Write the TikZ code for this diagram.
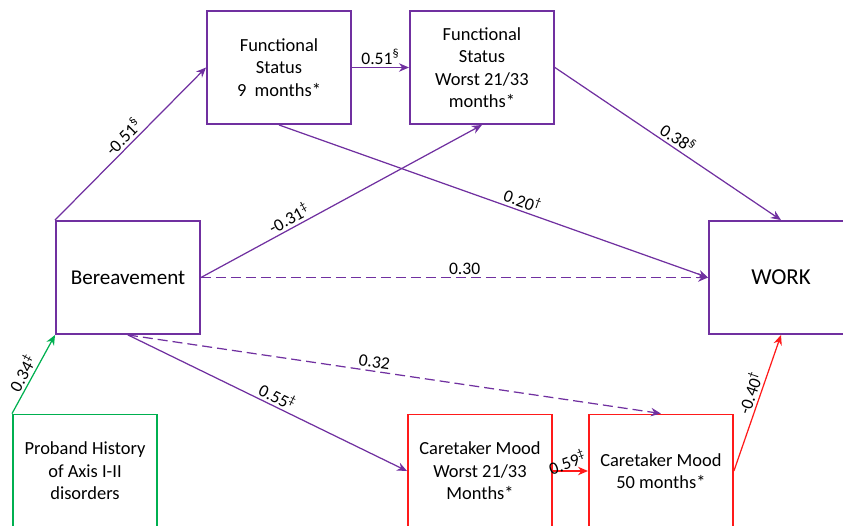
\documentclass[tikz,border=0pt]{standalone}
\usepackage{fontspec}
\setmainfont{Carlito}
\usetikzlibrary{arrows.meta, positioning}
\definecolor{pathpurple}{HTML}{7030A0}
\definecolor{historygreen}{HTML}{00B050}
\definecolor{moodred}{HTML}{FF1A1A}

\begin{document}
\begin{tikzpicture}[
  box/.style={rectangle, draw=pathpurple, line width=1.1pt, minimum width=2.88cm, minimum height=2.26cm, align=center, font=\fontsize{10.5}{12.8}\selectfont},
  moodbox/.style={box, draw=moodred},
  histbox/.style={box, draw=historygreen},
  arrow/.style={-{Stealth[length=2mm, width=1.7mm]}, line width=0.7pt, draw=pathpurple},
  moodarrow/.style={arrow, draw=moodred},
  histarrow/.style={arrow, draw=historygreen},
  maybe/.style={arrow, dash pattern=on 2mm off 1mm},
  coef/.style={font=\fontsize{10}{12}\selectfont, midway, sloped, above, inner sep=1.5pt}
]
  \useasboundingbox (0,0) rectangle (16.86,-10.5);
  \clip (0,0) rectangle (16.86,-10.5);

  \node[box] (fs9) at (5.58,-1.35) {Functional\\Status\\9~~months*};
  \node[box, right=1.14cm of fs9] (fsw) {Functional\\Status\\Worst 21/33\\months*};
  \node[box, font=\fontsize{12}{14}\selectfont] (ber) at (2.56,-5.55) {Bereavement};
  \node[box, font=\fontsize{13}{15}\selectfont] (work) at (15.62,-5.55) {WORK};
  \node[histbox] (hist) at (1.70,-9.42) {Proband History\\of Axis I-II\\disorders};
  \node[moodbox] (cmw) at (9.60,-9.42) {Caretaker Mood\\Worst 21/33\\Months*};
  \node[moodbox, right=0.70cm of cmw] (cm50) {Caretaker Mood\\50 months*};

  \draw[arrow] (ber.north west) -- node[coef] {-0.51\textsuperscript{§}} (fs9.west);
  \draw[arrow] (fs9) -- node[coef] {0.51\textsuperscript{§}} (fsw);
  \draw[arrow] (ber.east) -- node[coef, pos=0.33] {-0.31\textsuperscript{‡}} (fsw.south);
  \draw[arrow] (fs9.south) -- node[coef, pos=0.56] {0.20\textsuperscript{†}} (work.west);
  \draw[arrow] (fsw.east) -- node[coef, pos=0.52] {0.38\textsuperscript{§}} (work.north);
  \draw[maybe] (ber.east) -- node[coef, pos=0.52] {0.30} (work.west);
  \draw[maybe] (ber.south) -- node[coef, pos=0.46] {0.32} (cm50.north);
  \draw[arrow] (ber.south) -- node[coef, pos=0.52] {0.55\textsuperscript{‡}} (cmw.west);
  \draw[histarrow] (hist.north west) -- node[coef, pos=0.45] {0.34\textsuperscript{‡}} (ber.south west);
  \draw[moodarrow] (cmw) -- node[above, rotate=20, font=\fontsize{10}{12}\selectfont, inner sep=1pt] {0.59\textsuperscript{‡}} (cm50);
  \draw[moodarrow] (cm50.east) -- node[coef, pos=0.55] {-0.40\textsuperscript{†}} (work.south);
\end{tikzpicture}
\end{document}
